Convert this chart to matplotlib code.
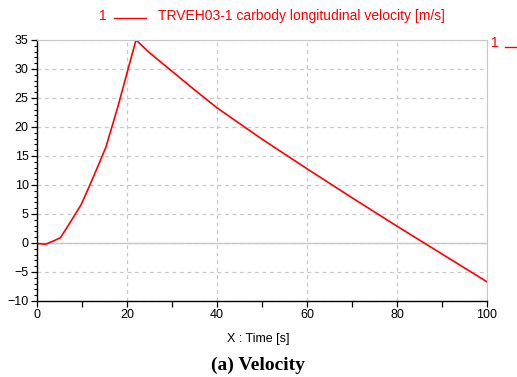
import matplotlib.pyplot as plt
from matplotlib.lines import Line2D
from matplotlib.ticker import MultipleLocator

# time [s] and carbody longitudinal velocity [m/s]
time = [0, 2, 3.8, 5.2, 7.5, 9.8, 11.3, 13.3, 15.3, 17.9, 22, 25, 30, 35, 40, 50, 60, 70, 80, 90, 100]
velocity = [-0.1, -0.2, 0.4, 0.9, 3.7, 6.6, 9.2, 12.8, 16.5, 23.3, 35, 32.8, 29.6, 26.4, 23.3, 17.9, 12.8, 7.8, 2.9, -1.9, -6.7]

curve_label = 'TRVEH03-1 carbody longitudinal velocity [m/s]'
x_label = 'X : Time [s]'
caption = '(a) Velocity'

RED = '#ff0000'
GRID = '#c8c8c8'

plt.rcParams['font.family'] = ['Liberation Sans', 'DejaVu Sans']

fig = plt.figure(figsize=(5.17, 3.77), dpi=100)
ax = fig.add_axes([37 / 517, 0.2016, 450 / 517, 0.6924])

ax.plot(time, velocity, color=RED, lw=1.2)

ax.set_xlim(0, 100)
ax.set_ylim(-10, 35)
ax.xaxis.set_major_locator(MultipleLocator(20))
ax.xaxis.set_minor_locator(MultipleLocator(10))
ax.yaxis.set_major_locator(MultipleLocator(5))
ax.yaxis.set_minor_locator(MultipleLocator(1))

ax.grid(True, which='major', color=GRID, ls=(0, (3, 3)), lw=0.9)
ax.axhline(0, color=GRID, lw=1.0, zorder=1)

ax.tick_params(axis='both', which='major', labelsize=9, direction='out', length=4, width=0.9, pad=2)
ax.tick_params(axis='y', which='minor', direction='out', length=2.5, width=0.8)
ax.tick_params(axis='x', which='minor', direction='out', length=4, width=0.9)

for side in ['top', 'right']:
    ax.spines[side].set_color(GRID)
for side in ['left', 'bottom']:
    ax.spines[side].set_color('black')
    ax.spines[side].set_linewidth(1.0)

# legend strip above the plot
fig.text(103 / 517, 1 - 16 / 377, '1', color=RED, fontsize=10, ha='center', va='center')
fig.add_artist(Line2D([114 / 517, 146 / 517], [1 - 18 / 377] * 2, color=RED, lw=1.0))
fig.text(158 / 517, 1 - 16 / 377, curve_label, color=RED, fontsize=10, ha='left', va='center')

# clipped second legend at the right edge
fig.text(495 / 517, 1 - 43 / 377, '1', color=RED, fontsize=10, ha='center', va='center')
fig.add_artist(Line2D([505 / 517, 517 / 517], [1 - 47 / 377] * 2, color=RED, lw=1.0))

fig.text(258 / 517, 1 - 339 / 377, x_label, fontsize=9, ha='center', va='center')
fig.text(258 / 517, 1 - 365 / 377, caption, fontsize=14, fontweight='bold',
         family=['Liberation Serif', 'DejaVu Serif'], ha='center', va='center')

fig.savefig('out.png', dpi=100)
